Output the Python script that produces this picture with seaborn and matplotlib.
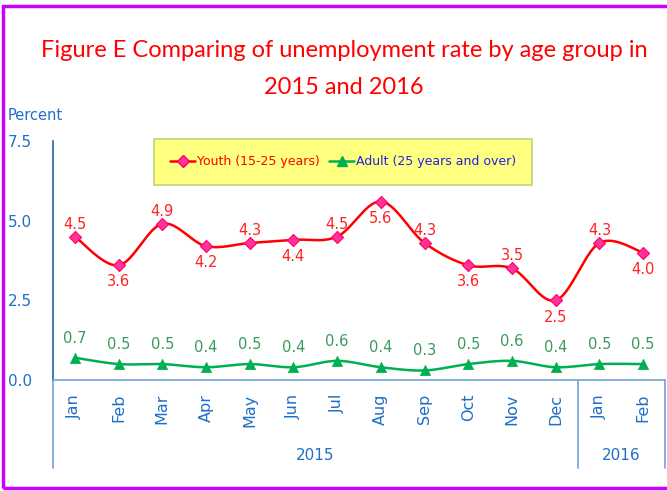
import numpy as np
import pandas as pd
import matplotlib
matplotlib.use('Agg')
import matplotlib.pyplot as plt
import matplotlib.transforms as mtransforms
from matplotlib.lines import Line2D
from matplotlib.patches import Rectangle
import seaborn as sns

# data
months = ["Jan", "Feb", "Mar", "Apr", "May", "Jun", "Jul", "Aug", "Sep", "Oct", "Nov", "Dec", "Jan", "Feb"]
years = ["2015", "2016"]
year_span = [(0, 11), (12, 13)]
youth = [4.5, 3.6, 4.9, 4.2, 4.3, 4.4, 4.5, 5.6, 4.3, 3.6, 3.5, 2.5, 4.3, 4.0]
adult = [0.7, 0.5, 0.5, 0.4, 0.5, 0.4, 0.6, 0.4, 0.3, 0.5, 0.6, 0.4, 0.5, 0.5]
# label above (1) or below (-1) the youth point
youth_side = [1, -1, 1, -1, 1, -1, 1, -1, 1, -1, 1, -1, 1, -1]

sns.set_style('white')
plt.rcParams['font.family'] = ['DejaVu Sans']

BLUE = '#1F6FC8'
RED = '#FF0000'
GREEN = '#00B050'


def smooth(x, y, n=24):
    # bezier smoothing through the points, like a spreadsheet "smoothed line"
    x = np.asarray(x, float)
    y = np.asarray(y, float)
    px = np.r_[x[0], x, x[-1]]
    py = np.r_[y[0], y, y[-1]]
    xs, ys = [], []
    t = np.linspace(0, 1, n, endpoint=False)
    for i in range(len(x) - 1):
        p0 = np.array([px[i + 1], py[i + 1]])
        p3 = np.array([px[i + 2], py[i + 2]])
        c1 = p0 + (p3 - np.array([px[i], py[i]])) / 6
        c2 = p3 - (np.array([px[i + 3], py[i + 3]]) - p0) / 6
        for tt in t:
            b = ((1 - tt) ** 3) * p0 + 3 * ((1 - tt) ** 2) * tt * c1 + 3 * (1 - tt) * tt ** 2 * c2 + tt ** 3 * p3
            xs.append(b[0])
            ys.append(b[1])
    xs.append(x[-1])
    ys.append(y[-1])
    return np.array(xs), np.array(ys)


pos = np.arange(len(months))
fig = plt.figure(figsize=(6.67, 4.91), dpi=100)
ax = fig.add_axes([53 / 667, 1 - 380 / 491, 612 / 667, 239 / 491])

sx, sy = smooth(pos, youth)
sns.lineplot(x=sx, y=sy, sort=False, color=RED, lw=1.8, ax=ax)
sns.scatterplot(x=pos, y=youth, marker='D', s=38, color='#FF3399', edgecolor='#FF0066', linewidth=0.8, ax=ax, zorder=3)
sx, sy = smooth(pos, adult)
sns.lineplot(x=sx, y=sy, sort=False, color=GREEN, lw=1.8, ax=ax)
sns.scatterplot(x=pos, y=adult, marker='^', s=55, color=GREEN, edgecolor=GREEN, linewidth=0.5, ax=ax, zorder=3)

for i, v in enumerate(youth):
    off = 9 if youth_side[i] > 0 else -12
    ax.annotate(f"{v:.1f}", (i, v), xytext=(0, off), textcoords='offset points',
                ha='center', va='center', color='#FF2222', fontsize=10.5)
for i, v in enumerate(adult):
    ax.annotate(f"{v:.1f}", (i, v), xytext=(0, 14), textcoords='offset points',
                ha='center', va='center', color='#3A9A5C', fontsize=10.5)

ax.set_xlim(-0.5, len(months) - 0.5)
ax.set_ylim(0, 7.5)
ax.set_yticks([0, 2.5, 5.0, 7.5])
ax.set_yticklabels(["0.0", "2.5", "5.0", "7.5"])
ax.set_xticks(pos)
ax.set_xticklabels(months, rotation=90)
ax.tick_params(axis='y', length=0, pad=15, labelsize=11, labelcolor=BLUE)
ax.tick_params(axis='x', length=0, pad=10, labelsize=11.5, labelcolor=BLUE)
for s in ['top', 'right']:
    ax.spines[s].set_visible(False)
ax.spines['left'].set_color('#2A64A8')
ax.spines['left'].set_linewidth(1.2)
ax.spines['bottom'].set_color('#6FA3DA')
ax.spines['bottom'].set_linewidth(1.2)
ax.set_xlabel('')
ax.set_ylabel('')

# category group separators and year labels
trans = mtransforms.blended_transform_factory(ax.transData, ax.transAxes)
for xb in [-0.5, 11.5, 13.5]:
    ax.plot([xb, xb], [0, -0.37], color='#6FA3DA', lw=1.2, transform=trans, clip_on=False)
for yr, (a, b) in zip(years, year_span):
    ax.text((a + b) / 2, -0.315, yr, transform=trans, ha='center', va='center', color=BLUE, fontsize=11)

# legend
handles = [
    Line2D([], [], color=RED, lw=1.8, marker='D', markersize=6, markerfacecolor='#FF3399', markeredgecolor='#FF0066'),
    Line2D([], [], color=GREEN, lw=1.8, marker='^', markersize=7, markerfacecolor=GREEN, markeredgecolor=GREEN),
]
leg = fig.legend(handles, ["Youth (15-25 years)", "Adult (25 years and over)"], ncol=2,
                 loc='center', bbox_to_anchor=(343 / 667, 1 - 162 / 491), fontsize=9,
                 frameon=True, fancybox=False, handlelength=2.0, handletextpad=0.1,
                 columnspacing=0.8, borderpad=1.3)
leg.get_frame().set_facecolor('#FFFF80')
leg.get_frame().set_edgecolor('#C2D27A')
leg.get_frame().set_linewidth(1.2)
leg.get_frame().set_alpha(1)
leg.get_texts()[0].set_color(RED)
leg.get_texts()[1].set_color('#2222DD')

# titles
fig.text(344 / 667, 1 - 50 / 491, "Figure E Comparing of unemployment rate by age group in",
         ha='center', va='center', color=RED, fontsize=17, family=['Lato', 'DejaVu Sans'])
fig.text(344 / 667, 1 - 87 / 491, "2015 and 2016",
         ha='center', va='center', color=RED, fontsize=17, family=['Lato', 'DejaVu Sans'])
fig.text(8 / 667, 1 - 115 / 491, "Percent", ha='left', va='center', color=BLUE, fontsize=10.5)

# outer border
fig.patches.append(Rectangle((3 / 667, 3 / 491), 1.02, 1 - 9 / 491, transform=fig.transFigure,
                             fill=False, edgecolor='#CC00FF', lw=2.5))

fig.savefig('out.png', dpi=100)
